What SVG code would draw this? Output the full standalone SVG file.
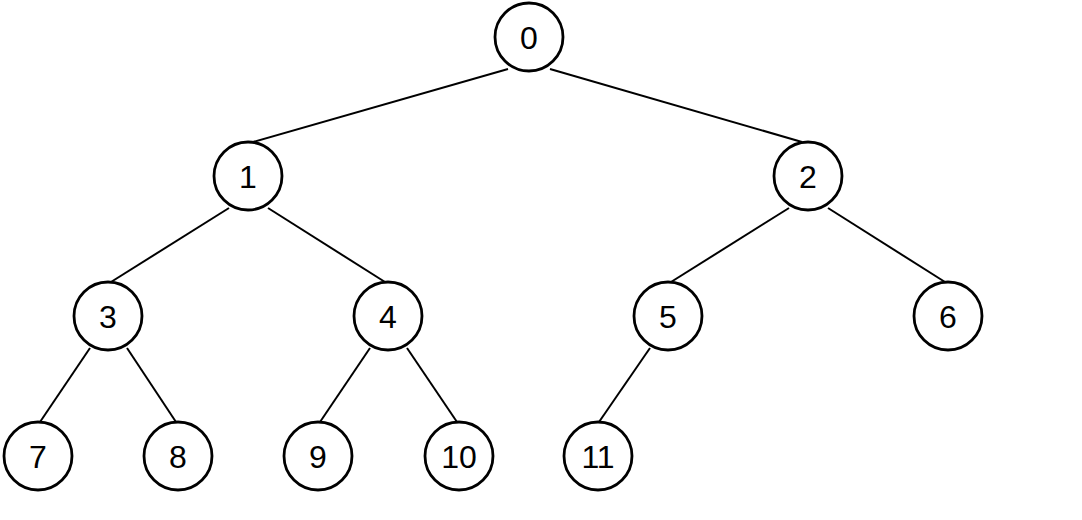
<svg xmlns="http://www.w3.org/2000/svg" width="1082" height="520" viewBox="0 0 1082 520">
<style>
.n circle{fill:#fff;stroke:#000;stroke-width:2.8}
.n text{font-family:"Liberation Sans",Arial,sans-serif;font-size:32px;text-anchor:middle;dominant-baseline:central;fill:#000}
#edges line{stroke:#000;stroke-width:2}
</style>
<rect width="1082" height="520" fill="#fff"/>
<g id="edges">
<line x1="508" y1="69" x2="253" y2="142"/>
<line x1="550" y1="69" x2="802" y2="142"/>
<line x1="229" y1="208" x2="111" y2="282"/>
<line x1="268" y1="208" x2="385" y2="282"/>
<line x1="789" y1="208" x2="671" y2="282"/>
<line x1="828" y1="208" x2="945" y2="282"/>
<line x1="90" y1="348" x2="40" y2="422"/>
<line x1="127" y1="348" x2="176" y2="422"/>
<line x1="370" y1="348" x2="320" y2="422"/>
<line x1="407" y1="348" x2="457" y2="422"/>
<line x1="650" y1="348" x2="599" y2="422"/>
</g>
<g id="n0" class="n"><circle cx="529" cy="37" r="34"/><text x="529" y="38">0</text></g>
<g id="n1" class="n"><circle cx="248" cy="176" r="34"/><text x="248" y="177">1</text></g>
<g id="n2" class="n"><circle cx="808" cy="176" r="34"/><text x="808" y="177">2</text></g>
<g id="n3" class="n"><circle cx="108" cy="316" r="34"/><text x="108" y="317">3</text></g>
<g id="n4" class="n"><circle cx="388" cy="316" r="34"/><text x="388" y="317">4</text></g>
<g id="n5" class="n"><circle cx="668" cy="316" r="34"/><text x="668" y="317">5</text></g>
<g id="n6" class="n"><circle cx="948" cy="316" r="34"/><text x="948" y="317">6</text></g>
<g id="n7" class="n"><circle cx="38" cy="456" r="34"/><text x="38" y="457">7</text></g>
<g id="n8" class="n"><circle cx="178" cy="456" r="34"/><text x="178" y="457">8</text></g>
<g id="n9" class="n"><circle cx="318" cy="456" r="34"/><text x="318" y="457">9</text></g>
<g id="n10" class="n"><circle cx="459" cy="456" r="34"/><text x="459" y="457">10</text></g>
<g id="n11" class="n"><circle cx="598" cy="456" r="34"/><text x="598" y="457">11</text></g>
</svg>
